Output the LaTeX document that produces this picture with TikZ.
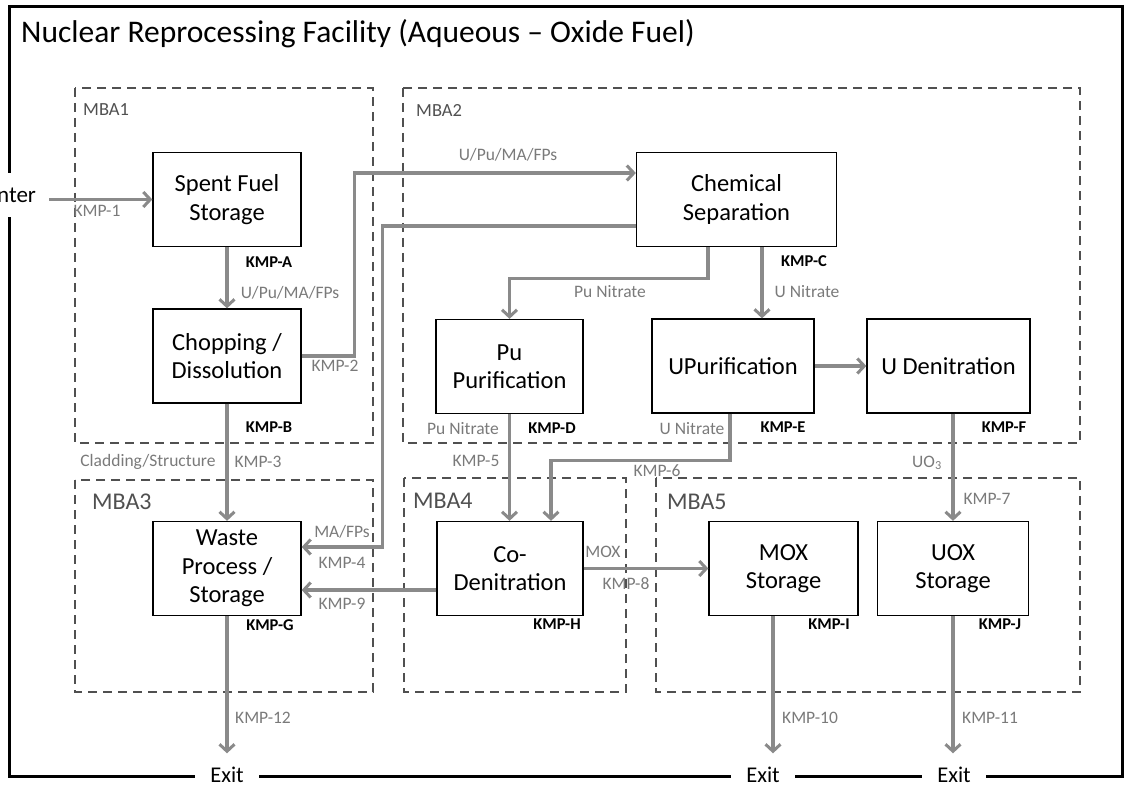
\documentclass[tikz,border=0pt]{standalone}
\usepackage{fontspec}
\setmainfont{Carlito}
\usetikzlibrary{arrows.meta}
\definecolor{flowgray}{HTML}{8A8A8A}
\definecolor{mbagray}{HTML}{505050}
\definecolor{labelgray}{HTML}{7A7A7A}
\begin{document}
\begin{tikzpicture}[x=1pt,y=-1pt,
  unit/.style={draw=black, line width=1.3pt, fill=white, align=center,
    minimum height=94pt, inner sep=0pt, font=\fontsize{24.5}{28.5}\selectfont},
  mba/.style={draw=mbagray, line width=2.4pt, dash pattern=on 9pt off 6pt},
  mbalabel/.style={text=mbagray, anchor=west, inner sep=0pt},
  flow/.style={draw=flowgray, line width=3.6pt,
    -{Straight Barb[length=7pt,width=15pt,line width=3pt]}},
  kmp/.style={text=labelgray, inner sep=0pt, font=\fontsize{17.5}{18}\selectfont},
  kmpb/.style={text=black, inner sep=0pt, font=\bfseries\fontsize{16.5}{18}\selectfont},
  gate/.style={fill=white, anchor=base, inner xsep=15pt, inner ysep=1pt,
    font=\fontsize{22.5}{24}\selectfont},
  toexit/.style={flow, shorten >=12pt}]
\useasboundingbox (0,0) rectangle (1125,786);

% facility boundary
\draw[line width=3pt] (9,7) rectangle (1122,776);
\node[anchor=base west, inner sep=0pt, font=\fontsize{31.5}{33}\selectfont] (title) at (21,43)
  {Nuclear Reprocessing Facility (Aqueous -- Oxide Fuel)};

% entry and exits on the boundary
\node[fill=white, minimum height=44pt, inner xsep=4pt, font=\fontsize{23}{24}\selectfont] (enter) at (11,195) {Enter};
\node[gate] (exitA) at (227,782) {Exit};
\node[gate] (exitB) at (763,782) {Exit};
\node[gate] (exitC) at (954,782) {Exit};

% material balance areas
\draw[mba] (75,88) rectangle (373,443);
\draw[mba] (403,88) rectangle (1080,443);
\draw[mba] (75,480) rectangle (373,692);
\draw[mba] (404,478) rectangle (626,692);
\draw[mba] (656,478) rectangle (1080,692);
\node[mbalabel, font=\fontsize{18.5}{20}\selectfont] (mba1) at (83,110) {MBA1};
\node[mbalabel, font=\fontsize{18.5}{20}\selectfont] (mba2) at (416,110) {MBA2};
\node[mbalabel, font=\fontsize{24}{25}\selectfont] (mba3) at (92,502) {MBA3};
\node[mbalabel, font=\fontsize{24}{25}\selectfont] (mba4) at (413,501) {MBA4};
\node[mbalabel, font=\fontsize{24}{25}\selectfont] (mba5) at (667,502) {MBA5};

% process units
\node[unit, minimum width=148pt] (sfs)   at (227,199.5) {Spent Fuel\\Storage};
\node[unit, minimum width=148pt] (chop)  at (227,356)   {Chopping /\\Dissolution};
\node[unit, minimum width=200pt] (chem)  at (736.5,199.5) {Chemical\\Separation};
\node[unit, minimum width=147pt] (pupur) at (509.5,366.5) {Pu\\Purification};
\node[unit, minimum width=162pt] (upur)  at (733,366)   {UPurification};
\node[unit, minimum width=163pt] (uden)  at (948.5,366) {U Denitration};
\node[unit, minimum width=148pt] (waste) at (227,568.5) {Waste\\Process /\\Storage};
\node[unit, minimum width=146pt] (coden) at (510,568.5) {Co-\\Denitration};
\node[unit, minimum width=149pt] (mox)   at (783.5,568.5) {MOX\\Storage};
\node[unit, minimum width=151pt] (uox)   at (953,568.5) {UOX\\Storage};

% material flows
\draw[flow] ([xshift=9pt]enter.east |- sfs.west) -- (sfs.west);
\draw[flow] (sfs.south) -- (chop.north);
\draw[flow] (chop.east) -- ++(53,0) |- ([yshift=26.5pt]chem.west);
\draw[flow] ([yshift=-26.5pt]chem.west) -- ++(-253.5,0) |- ([yshift=21.5pt]waste.east);
\draw[flow] ([xshift=-28.5pt]chem.south) -- ++(0,31.5) -| (pupur.north);
\draw[flow] ([xshift=25.5pt]chem.south) -- ([xshift=25.5pt]chem.south |- upur.north);
\draw[flow] (upur.east) -- (uden.west);
\draw[flow] (pupur.south) -- (pupur.south |- coden.north);
\draw[flow] ([xshift=-3pt]upur.south) -- ++(0,47) -| ([xshift=41pt]coden.north);
\draw[flow] (uox.north |- uden.south) -- (uox.north);
\draw[flow] (chop.south) -- (waste.north);
\draw[flow] ([yshift=-21.5pt]coden.west) -- ([yshift=-21.5pt]waste.east);
\draw[flow] (coden.east) -- (mox.west);
\draw[toexit] (waste.south) -- (waste.south |- exitA.north);
\draw[toexit] ([xshift=-10.5pt]mox.south) -- ([xshift=-10.5pt]mox.south |- exitB.north);
\draw[toexit] (uox.south) -- (uox.south |- exitC.north);

% key measurement points and stream labels
\node[kmp]  (k1)   at (97,211)  {KMP-1};
\node[kmpb] (kA)   at (269,262) {KMP-A};
\node[kmp]  (s1)   at (290,293) {U/Pu/MA/FPs};
\node[kmp]  (k2)   at (335,366) {KMP-2};
\node[kmp]  (s2)   at (508,155) {U/Pu/MA/FPs};
\node[kmp]  (s3)   at (610,292) {Pu Nitrate};
\node[kmpb] (kC)   at (804,261) {KMP-C};
\node[kmp]  (s4)   at (807,292) {U Nitrate};
\node[kmpb] (kB)   at (269,427) {KMP-B};
\node[kmp]  (s5)   at (463,429) {Pu Nitrate};
\node[kmpb] (kD)   at (552,428) {KMP-D};
\node[kmp]  (s6)   at (692,429) {U Nitrate};
\node[kmpb] (kE)   at (783,427) {KMP-E};
\node[kmpb] (kF)   at (1004,427) {KMP-F};
\node[kmp]  (s7)   at (148,462) {Cladding/Structure};
\node[kmp]  (k3)   at (258,462) {KMP-3};
\node[kmp]  (k5)   at (476,461) {KMP-5};
\node[kmp]  (k6)   at (657,471) {KMP-6};
\node[kmp]  (s8)   at (927,463) {UO\textsubscript{3}};
\node[kmp]  (k7)   at (987,499) {KMP-7};
\node[kmp]  (s9)   at (342,532) {MA/FPs};
\node[kmp]  (k4)   at (342,563) {KMP-4};
\node[kmp]  (k9)   at (342,604) {KMP-9};
\node[kmp]  (s10)  at (603,552) {MOX};
\node[kmp]  (k8)   at (626,584) {KMP-8};
\node[kmpb] (kG)   at (270,625) {KMP-G};
\node[kmpb] (kH)   at (557,624) {KMP-H};
\node[kmpb] (kI)   at (829,624) {KMP-I};
\node[kmpb] (kJ)   at (1000,624) {KMP-J};
\node[kmp]  (k12)  at (263,718) {KMP-12};
\node[kmp]  (k10)  at (810,718) {KMP-10};
\node[kmp]  (k11)  at (990,718) {KMP-11};
\end{tikzpicture}
\end{document}
